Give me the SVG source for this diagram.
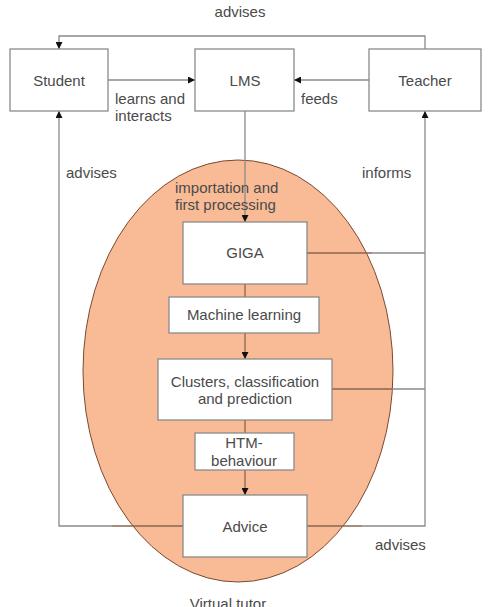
<svg xmlns="http://www.w3.org/2000/svg" width="493" height="607" viewBox="0 0 493 607">
<defs>
<style>
.box{fill:#fff;stroke:#8a8a8a;stroke-width:1.3}
.ln{fill:none;stroke:#8a8a8a;stroke-width:1.3}
.in{stroke:#8a6550}
.t{font-family:"Liberation Sans",Arial,sans-serif;font-size:15px;fill:#4a4a4a}
.m{text-anchor:middle}
</style>
<marker id="ah" viewBox="0 0 10 10" refX="10" refY="5" markerWidth="7" markerHeight="7" orient="auto" markerUnits="userSpaceOnUse">
<path d="M0,0 L10,5 L0,10 z" fill="#111"/>
</marker>
</defs>
<rect width="493" height="607" fill="#fff"/>
<g id="virtual-tutor">
<ellipse cx="238" cy="371" rx="155" ry="211" fill="#f8bb96" stroke="#7a4a30" stroke-width="1"/>
<text class="t m" x="228" y="609">Virtual tutor</text>
</g>
<g id="connectors">
<polyline class="ln" points="425,49 425,36 59,36 59,49" marker-end="url(#ah)"/>
<line class="ln" x1="108" y1="80" x2="195" y2="80" marker-end="url(#ah)"/>
<line class="ln" x1="369" y1="80" x2="294" y2="80" marker-end="url(#ah)"/>
<line class="ln" x1="245" y1="111" x2="245" y2="222" marker-end="url(#ah)"/>
<line class="ln in" x1="245" y1="284" x2="245" y2="297"/>
<line class="ln in" x1="245" y1="333" x2="245" y2="359" marker-end="url(#ah)"/>
<line class="ln in" x1="245" y1="420" x2="245" y2="433"/>
<line class="ln in" x1="245" y1="470" x2="245" y2="495" marker-end="url(#ah)"/>
<line class="ln in" x1="307" y1="253" x2="372" y2="253"/>
<line class="ln" x1="372" y1="253" x2="425" y2="253"/>
<line class="ln in" x1="332" y1="389" x2="392" y2="389"/>
<line class="ln" x1="392" y1="389" x2="425" y2="389"/>
<line class="ln in" x1="307" y1="526" x2="362" y2="526"/>
<polyline class="ln" points="362,526 425,526 425,111" marker-end="url(#ah)"/>
<line class="ln in" x1="183" y1="526" x2="112" y2="526"/>
<polyline class="ln" points="112,526 59,526 59,111" marker-end="url(#ah)"/>
</g>
<g id="labels">
<text class="t m" x="240" y="17">advises</text>
<text class="t" x="115" y="104">learns and</text>
<text class="t" x="115" y="121">interacts</text>
<text class="t" x="301" y="104">feeds</text>
<text class="t" x="66" y="178">advises</text>
<text class="t" x="362" y="178">informs</text>
<text class="t" x="175" y="193">importation and</text>
<text class="t" x="175" y="210">first processing</text>
<text class="t" x="375" y="550">advises</text>
</g>
<g id="student">
<rect class="box" x="10" y="49" width="98" height="62"/>
<text class="t m" x="59" y="86">Student</text>
</g>
<g id="lms">
<rect class="box" x="195" y="49" width="99" height="62"/>
<text class="t m" x="245" y="86">LMS</text>
</g>
<g id="teacher">
<rect class="box" x="369" y="49" width="112" height="62"/>
<text class="t m" x="425" y="86">Teacher</text>
</g>
<g id="giga">
<rect class="box" x="183" y="222" width="124" height="62"/>
<text class="t m" x="245" y="258">GIGA</text>
</g>
<g id="machine-learning">
<rect class="box" x="169" y="297" width="150" height="36"/>
<text class="t m" x="244" y="320">Machine learning</text>
</g>
<g id="clusters">
<rect class="box" x="158" y="359" width="174" height="61"/>
<text class="t m" x="245" y="387">Clusters, classification</text>
<text class="t m" x="245" y="404">and prediction</text>
</g>
<g id="htm">
<rect class="box" x="195" y="433" width="99" height="37"/>
<text class="t m" x="244" y="448">HTM-</text>
<text class="t m" x="244" y="466">behaviour</text>
</g>
<g id="advice">
<rect class="box" x="183" y="495" width="124" height="62"/>
<text class="t m" x="245" y="532">Advice</text>
</g>
</svg>
